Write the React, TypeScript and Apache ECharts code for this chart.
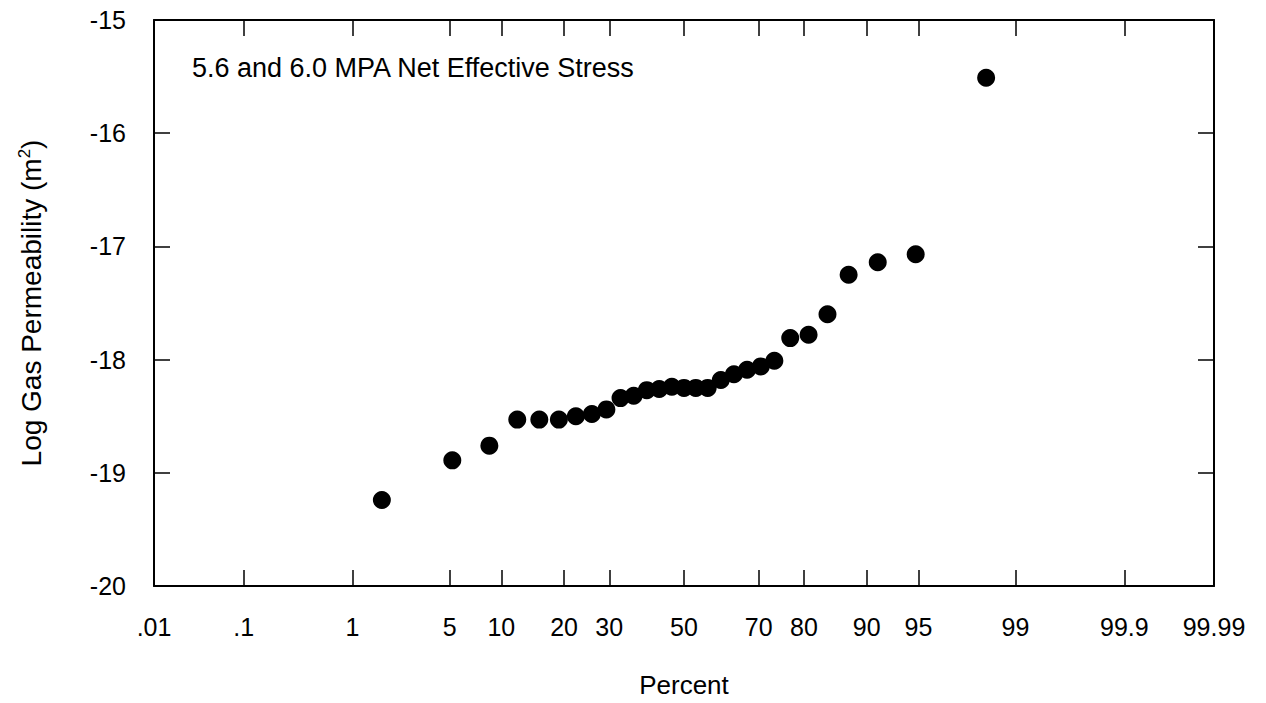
import React, { useEffect, useRef } from "react";
import * as echarts from "echarts";

// Cumulative percent (plotting position) of each sample
const percents = [
  1.7, 5.2, 8.6, 12.1, 15.5, 19.0, 22.4, 25.9, 29.3, 32.8, 36.2, 39.7, 43.1, 46.6, 50.0,
  53.3, 56.6, 60.2, 63.7, 67.1, 70.5, 73.7, 77.2, 80.9, 84.3, 87.6, 91.3, 94.8, 98.3,
];
// Log gas permeability (m^2)
const logPerm = [
  -19.24, -18.89, -18.76, -18.53, -18.53, -18.53, -18.5, -18.48, -18.44, -18.34, -18.32,
  -18.27, -18.26, -18.24, -18.25, -18.25, -18.25, -18.18, -18.13, -18.09, -18.06, -18.01,
  -17.81, -17.78, -17.6, -17.25, -17.14, -17.07, -15.51,
];
// Probability-axis ticks
const tickPercents = [0.01, 0.1, 1, 5, 10, 20, 30, 50, 70, 80, 90, 95, 99, 99.9, 99.99];
const tickLabels = [".01", ".1", "1", "5", "10", "20", "30", "50", "70", "80", "90", "95", "99", "99.9", "99.99"];

// Inverse standard normal CDF (Acklam's approximation)
function normInv(p: number): number {
  const a = [-3.969683028665376e1, 2.209460984245205e2, -2.759285104469687e2, 1.38357751867269e2, -3.066479806614716e1, 2.506628277459239];
  const b = [-5.447609879822406e1, 1.615858368580409e2, -1.556989798598866e2, 6.680131188771972e1, -1.328068155288572e1];
  const c = [-7.784894002430293e-3, -3.223964580411365e-1, -2.400758277161838, -2.549732539343734, 4.374664141464968, 2.938163982698783];
  const d = [7.784695709041462e-3, 3.224671290700398e-1, 2.445134137142996, 3.754408661907416];
  const pl = 0.02425;
  if (p < pl) {
    const q = Math.sqrt(-2 * Math.log(p));
    return (((((c[0] * q + c[1]) * q + c[2]) * q + c[3]) * q + c[4]) * q + c[5]) / ((((d[0] * q + d[1]) * q + d[2]) * q + d[3]) * q + 1);
  }
  if (p > 1 - pl) {
    const q = Math.sqrt(-2 * Math.log(1 - p));
    return -(((((c[0] * q + c[1]) * q + c[2]) * q + c[3]) * q + c[4]) * q + c[5]) / ((((d[0] * q + d[1]) * q + d[2]) * q + d[3]) * q + 1);
  }
  const q = p - 0.5;
  const r = q * q;
  return ((((((a[0] * r + a[1]) * r + a[2]) * r + a[3]) * r + a[4]) * r + a[5]) * q) / (((((b[0] * r + b[1]) * r + b[2]) * r + b[3]) * r + b[4]) * r + 1);
}

const zOf = (pct: number) => normInv(pct / 100);

const FONT = "'Liberation Sans', Arial, Helvetica, sans-serif";

export default function App() {
  const ref = useRef<HTMLDivElement>(null);

  useEffect(() => {
    if (!ref.current) return;
    const chart = echarts.init(ref.current, null, { renderer: "svg" });
    const tickZ = tickPercents.map(zOf);
    const zMin = tickZ[0];
    const zMax = tickZ[tickZ.length - 1];
    const labelFor = (v: number) => {
      let best = 0;
      for (let i = 1; i < tickZ.length; i++) {
        if (Math.abs(tickZ[i] - v) < Math.abs(tickZ[best] - v)) best = i;
      }
      return tickLabels[best];
    };
    const lineStyle = { color: "#000", width: 2 };
    const tickStyle = { color: "#000", width: 1.5 };
    const xBase = {
      type: "value" as const,
      min: zMin,
      max: zMax,
      axisLine: { show: true, onZero: false, lineStyle },
      splitLine: { show: false },
    };
    const yBase = {
      type: "value" as const,
      min: -20,
      max: -15,
      interval: 1,
      axisLine: { show: true, onZero: false, lineStyle },
      splitLine: { show: false },
    };
    chart.setOption({
      animation: false,
      backgroundColor: "#fff",
      textStyle: { fontFamily: FONT },
      grid: { left: 154, width: 1060, top: 20, height: 571, containLabel: false },
      xAxis: [
        {
          ...xBase,
          position: "bottom",
          name: "Percent",
          nameLocation: "middle",
          nameGap: 86,
          nameTextStyle: { fontSize: 26, color: "#000", fontFamily: FONT },
          axisTick: { show: true, inside: true, length: 16, customValues: tickZ, lineStyle: tickStyle },
          axisLabel: {
            show: true,
            customValues: tickZ,
            margin: 28,
            fontSize: 25,
            color: "#000",
            fontFamily: FONT,
            formatter: (v: number) => labelFor(v),
          },
        },
        {
          ...xBase,
          position: "top",
          axisTick: { show: true, inside: true, length: 16, customValues: tickZ, lineStyle: tickStyle },
          axisLabel: { show: false },
        },
      ],
      yAxis: [
        {
          ...yBase,
          position: "left",
          name: "{n|Log Gas Permeability (m}{s|2}{n|)}",
          nameLocation: "middle",
          nameGap: 108,
          nameTextStyle: {
            color: "#000",
            rich: {
              n: { fontSize: 28, fontFamily: FONT, color: "#000" },
              s: { fontSize: 17, fontFamily: FONT, color: "#000", verticalAlign: "top", padding: [0, 0, 13, 0] },
            },
          },
          axisTick: { show: true, inside: true, length: 16, lineStyle: tickStyle },
          axisLabel: { show: true, margin: 28, fontSize: 25, color: "#000", fontFamily: FONT },
        },
        {
          ...yBase,
          position: "right",
          axisTick: { show: true, inside: true, length: 16, lineStyle: tickStyle },
          axisLabel: { show: false },
        },
      ],
      graphic: [
        {
          type: "text",
          left: 192,
          top: 54,
          style: { text: "5.6 and 6.0 MPA Net Effective Stress", fontSize: 27, fontFamily: FONT, fill: "#000" },
        },
      ],
      series: [
        {
          type: "scatter",
          xAxisIndex: 0,
          yAxisIndex: 0,
          symbol: "circle",
          symbolSize: 18,
          itemStyle: { color: "#000", opacity: 1 },
          data: percents.map((p, i) => [zOf(p), logPerm[i]]),
        },
      ],
    });
    return () => chart.dispose();
  }, []);

  return (
    <div
      ref={ref}
      style={{ position: "fixed", left: 0, top: 0, width: 1266, height: 703, background: "#fff" }}
    />
  );
}
